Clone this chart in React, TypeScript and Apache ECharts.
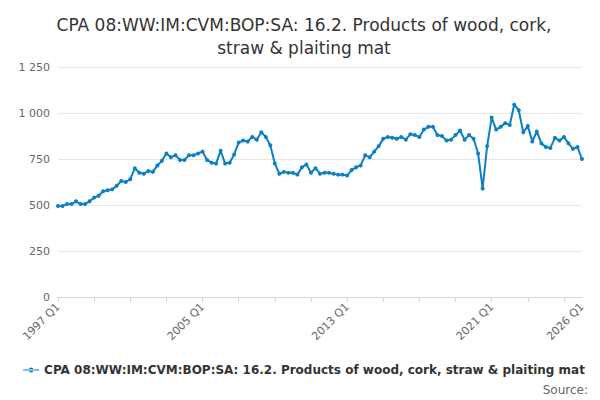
import React, { useEffect, useRef } from "react";
import * as echarts from "echarts";

const seriesName = "CPA 08:WW:IM:CVM:BOP:SA: 16.2. Products of wood, cork, straw & plaiting mat";

const years: number[] = [];
for (let y = 1997; y <= 2026; y++) years.push(y);
const quarters: string[] = [];
years.forEach((y) => {
  for (let q = 1; q <= 4; q++) if (y < 2026 || q === 1) quarters.push(`${y} Q${q}`);
});

const values = [
  495, 495, 505, 505, 520, 505, 505, 520, 540, 550, 575, 580, 585, 605, 630, 625,
  640, 700, 675, 670, 685, 680, 715, 740, 780, 760, 770, 745, 745, 770, 770, 780,
  790, 745, 730, 725, 795, 725, 730, 775, 840, 850, 845, 870, 855, 895, 870, 825,
  725, 670, 680, 675, 675, 665, 705, 720, 675, 700, 670, 675, 675, 670, 665, 665,
  660, 690, 705, 715, 770, 760, 790, 820, 860, 870, 865, 860, 870, 855, 885, 880,
  870, 910, 925, 925, 880, 875, 850, 855, 880, 905, 855, 880, 860, 780, 590, 820,
  975, 910, 925, 945, 935, 1045, 1015, 895, 930, 845, 900, 835, 815, 810, 865, 850,
  870, 835, 805, 815, 750,
];

const tickLabels = ["1997 Q1", "2005 Q1", "2013 Q1", "2021 Q1", "2026 Q1"];

export default function App() {
  const ref = useRef<HTMLDivElement>(null);
  useEffect(() => {
    if (!ref.current) return;
    const chart = echarts.init(ref.current, undefined, { renderer: "svg" });
    chart.setOption({
      animation: false,
      textStyle: { fontFamily: "DejaVu Sans" },
      title: {
        text: "CPA 08:WW:IM:CVM:BOP:SA: 16.2. Products of wood, cork,\nstraw & plaiting mat",
        left: "center",
        top: 0,
        textStyle: { fontSize: 17, fontWeight: "normal", color: "#333", lineHeight: 23 },
      },
      grid: { left: 50, right: 18, top: 59, bottom: 103 },
      xAxis: {
        type: "category",
        data: quarters,
        boundaryGap: false,
        axisLine: { lineStyle: { color: "#ccd6eb" } },
        axisTick: {
          alignWithLabel: true,
          lineStyle: { color: "#ccd6eb" },
          interval: (i: number) => i % 8 === 0,
        },
        axisLabel: {
          rotate: 45,
          color: "#666",
          fontSize: 11,
          interval: 0,
          formatter: (v: string) => (tickLabels.includes(v) ? v : ""),
        },
      },
      yAxis: {
        type: "value",
        min: 0,
        max: 1250,
        interval: 250,
        axisLabel: {
          color: "#666",
          fontSize: 11,
          formatter: (v: number) => (v >= 1000 ? `${Math.floor(v / 1000)} ${String(v % 1000).padStart(3, "0")}` : `${v}`),
        },
        splitLine: { lineStyle: { color: "#e6e6e6" } },
      },
      legend: {
        bottom: 19,
        left: "center",
        itemWidth: 16,
        itemHeight: 6,
        icon: "path://M0,2.4h16v1.2h-16z M8,0.5a2.5,2.5 0 1,0 0.01,0z",
        textStyle: { fontSize: 12, fontWeight: "bold", color: "#333" },
        data: [seriesName],
      },
      graphic: [
        { type: "text", right: 12, bottom: 4, style: { text: "Source:", fontSize: 12, fill: "#666", fontFamily: "DejaVu Sans" } },
      ],
      series: [
        {
          name: seriesName,
          type: "line",
          data: values,
          symbol: "circle",
          symbolSize: 4,
          lineStyle: { width: 2, color: "#0d7fc4" },
          itemStyle: { color: "#0d7fc4" },
        },
      ],
    });
    return () => chart.dispose();
  }, []);
  return <div ref={ref} style={{ width: 592, height: 392 }} />;
}
